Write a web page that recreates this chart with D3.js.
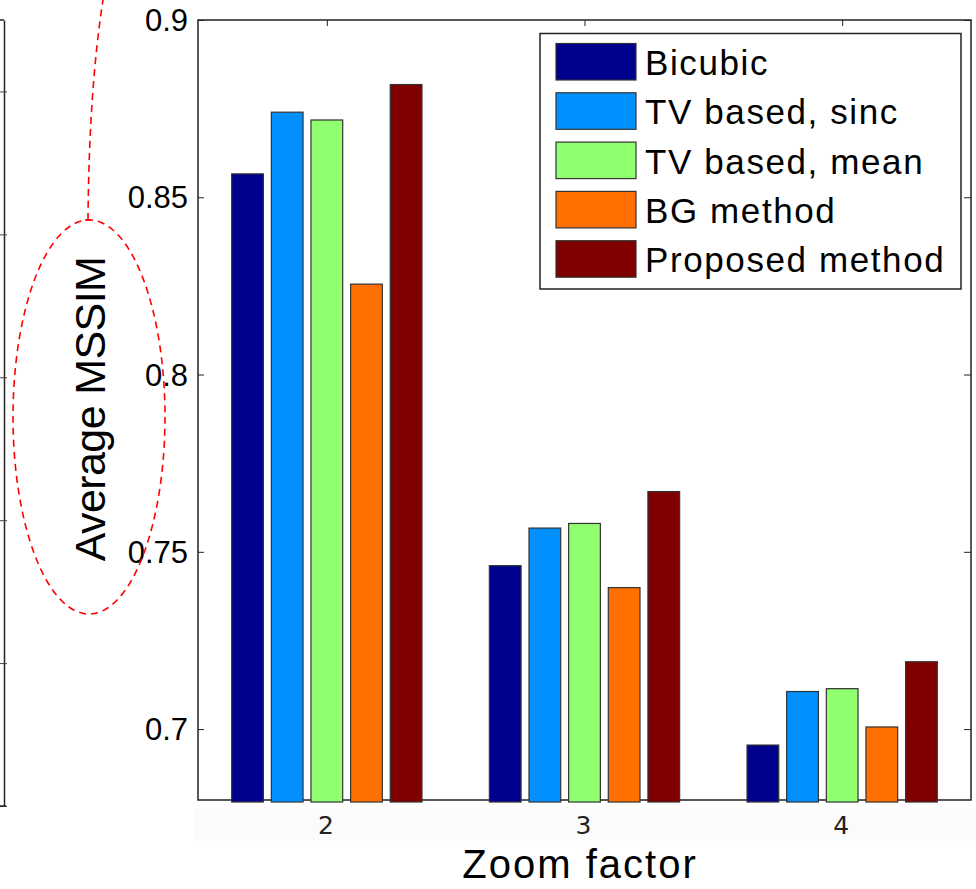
<!DOCTYPE html>
<html>
<head>
<meta charset="utf-8">
<script src="https://cdn.jsdelivr.net/npm/d3@7"></script>
<style>
  html, body { margin: 0; padding: 0; background: #fff; }
  svg { display: block; font-family: "Liberation Sans", Arial, Helvetica, sans-serif; }
</style>
</head>
<body>
<svg id="chart" width="976" height="889"></svg>
<script>
// ---- data ----
const categories = ["2", "3", "4"];
const categoryValues = [2, 3, 4];
const seriesNames = ["Bicubic", "TV based, sinc", "TV based, mean", "BG method", "Proposed method"];
const seriesColors = ["#00008f", "#0090ff", "#90ff70", "#ff7000", "#800000"];
const bicubic   = [0.8566, 0.7461, 0.6955];
const tvSinc    = [0.8740, 0.7567, 0.7106];
const tvMean    = [0.8718, 0.7580, 0.7114];
const bgMethod  = [0.8255, 0.7399, 0.7006];
const proposed  = [0.8818, 0.7670, 0.7190];
const seriesValues = [bicubic, tvSinc, tvMean, bgMethod, proposed];
const yTicks = [0.7, 0.75, 0.8, 0.85, 0.9];
const yTickLabels = ["0.7", "0.75", "0.8", "0.85", "0.9"];
const yDomain = [0.68, 0.9];
const xDomain = [1.5, 4.5];
const leftRemnantTicks = [0, 1, 2, 3, 4, 5];
const xLabel = "Zoom factor";
const yLabel = "Average MSSIM";

// ---- layout ----
const svg = d3.select("#chart");
const plot = { left: 198, right: 971, top: 20, bottom: 800 };

const x = d3.scaleLinear().domain(xDomain).range([plot.left, plot.right]);
const y = d3.scaleLinear().domain(yDomain).range([plot.bottom, plot.top]);

// MATLAB grouped bar geometry
const nS = seriesNames.length;
const groupWidth = Math.min(0.8, nS / (nS + 1.5));
const slot = groupWidth / nS;
const barW = slot * 0.8;

// left remnant axis (part of a neighbouring figure)
const yRem = d3.scaleLinear().domain([0, 5.5]).range([806, 20]);
const remG = svg.append("g").attr("transform", "translate(4,0)");
remG.call(d3.axisRight(yRem).tickValues(leftRemnantTicks).tickFormat("").tickSize(3).tickSizeOuter(0));
remG.select(".domain").attr("stroke", "#222").attr("stroke-width", 1.5);
remG.selectAll(".tick line").attr("stroke", "#444").attr("x1", -4).attr("x2", 3);
svg.append("line").attr("x1", 0).attr("x2", 4).attr("y1", 20).attr("y2", 20).attr("stroke", "#222").attr("stroke-width", 1.5);
svg.append("line").attr("x1", 0).attr("x2", 6).attr("y1", 806).attr("y2", 806).attr("stroke", "#222").attr("stroke-width", 1.5);

// tick label band
svg.append("rect").attr("x", 193).attr("y", 808).attr("width", 783).attr("height", 33).attr("fill", "#fbfbfb");

// axes box (drawn beneath bars, as MATLAB layer bottom)
const axG = svg.append("g");
axG.append("rect")
  .attr("x", plot.left).attr("y", plot.top)
  .attr("width", plot.right - plot.left).attr("height", plot.bottom - plot.top)
  .attr("fill", "#fff").attr("stroke", "#222").attr("stroke-width", 1.5);

// y ticks (left, right)
const yl = axG.append("g").attr("transform", `translate(${plot.left},0)`)
  .call(d3.axisRight(y).tickValues(yTicks).tickFormat("").tickSize(6).tickSizeOuter(0));
yl.select(".domain").remove();
yl.selectAll(".tick line").attr("stroke", "#222");
const yr = axG.append("g").attr("transform", `translate(${plot.right},0)`)
  .call(d3.axisLeft(y).tickValues(yTicks).tickFormat("").tickSize(7).tickSizeOuter(0));
yr.select(".domain").remove();
yr.selectAll(".tick line").attr("stroke", "#222");
// x ticks (top, bottom)
const xt = axG.append("g").attr("transform", `translate(0,${plot.top})`)
  .call(d3.axisBottom(x).tickValues(categoryValues).tickFormat("").tickSize(6).tickSizeOuter(0));
xt.select(".domain").remove();
xt.selectAll(".tick line").attr("stroke", "#222");
const xb = axG.append("g").attr("transform", `translate(0,${plot.bottom})`)
  .call(d3.axisTop(x).tickValues(categoryValues).tickFormat("").tickSize(6).tickSizeOuter(0));
xb.select(".domain").remove();
xb.selectAll(".tick line").attr("stroke", "#222");

// y tick labels
svg.append("g").selectAll("text").data(yTicks).join("text")
  .attr("x", 188).attr("y", d => y(d) + 11)
  .attr("text-anchor", "end").attr("font-size", 31).attr("fill", "#000")
  .text((d, i) => yTickLabels[i]);

// x tick labels
svg.append("g").selectAll("text").data(categoryValues).join("text")
  .attr("x", d => x(d) - 1).attr("y", 834)
  .attr("text-anchor", "middle").attr("font-size", 25).attr("fill", "#222")
  .attr("font-family", "DejaVu Sans, sans-serif")
  .text((d, i) => categories[i]);

// bars
const barsG = svg.append("g");
seriesValues.forEach((vals, s) => {
  barsG.append("g").selectAll("rect").data(vals).join("rect")
    .attr("x", (d, i) => x(categoryValues[i] - groupWidth / 2 + slot * s + (slot - barW) / 2))
    .attr("width", x(xDomain[0] + barW) - x(xDomain[0]))
    .attr("y", d => y(d))
    .attr("height", d => y(yDomain[0]) - y(d) + 2)
    .attr("fill", seriesColors[s])
    .attr("stroke", "#333").attr("stroke-width", 1.2);
});

// legend
const leg = { x: 540, y: 33.5, w: 421, h: 255.5 };
const lg = svg.append("g");
lg.append("rect").attr("x", leg.x).attr("y", leg.y).attr("width", leg.w).attr("height", leg.h)
  .attr("fill", "#fff").attr("stroke", "#222").attr("stroke-width", 1.5);
const items = lg.selectAll("g.item").data(seriesNames).join("g").attr("class", "item")
  .attr("transform", (d, i) => `translate(0,${43.5 + i * 49.3})`);
items.append("rect").attr("x", 556).attr("y", 0).attr("width", 80).attr("height", 36.5)
  .attr("fill", (d, i) => seriesColors[i]).attr("stroke", "#333").attr("stroke-width", 1.2);
items.append("text").attr("x", 645).attr("y", 31.5)
  .attr("font-size", 35).attr("letter-spacing", 1.6).attr("fill", "#000")
  .text(d => d);

// axis labels
svg.append("text").attr("x", 580).attr("y", 878).attr("text-anchor", "middle")
  .attr("font-size", 40).attr("letter-spacing", 2).attr("fill", "#000").text(xLabel);
svg.append("text").attr("transform", "translate(105,409) rotate(-90)").attr("text-anchor", "middle")
  .attr("font-size", 43).attr("letter-spacing", -0.6).attr("fill", "#000").text(yLabel);

// red dashed annotation
svg.append("ellipse").attr("cx", 89).attr("cy", 417).attr("rx", 76).attr("ry", 197)
  .attr("fill", "none").attr("stroke", "#ff0000").attr("stroke-width", 1.6).attr("stroke-dasharray", "7,5");
svg.append("path").attr("d", "M88,220 Q89,90 103,0")
  .attr("fill", "none").attr("stroke", "#ff0000").attr("stroke-width", 1.6).attr("stroke-dasharray", "7,5");
svg.append("line").attr("x1", 85).attr("x2", 91).attr("y1", 220).attr("y2", 220)
  .attr("stroke", "#ff0000").attr("stroke-width", 1.4);
</script>
</body>
</html>
